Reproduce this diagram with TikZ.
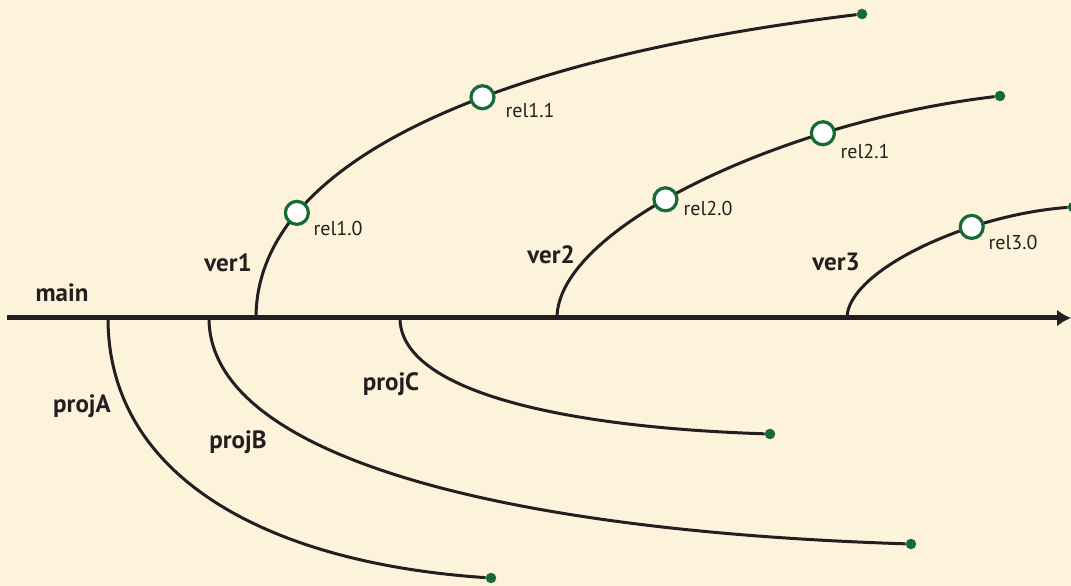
\documentclass[tikz,border=0pt]{standalone}
\usepackage{fontspec}
\setsansfont{PT Sans}
\usetikzlibrary{arrows.meta,positioning}
\definecolor{paper}{RGB}{253,243,218}
\definecolor{relgreen}{RGB}{22,106,56}
\definecolor{ink}{RGB}{35,31,32}

\begin{document}
\begin{tikzpicture}[>={Latex[length=14pt,width=17pt]}, x=1pt, y=1pt,
  mainline/.style={line width=5pt, draw=ink},
  branchline/.style={line width=3pt, draw=ink},
  relcircle/.style={circle, draw=relgreen, fill=white, line width=3.2pt, minimum size=23pt, inner sep=0pt},
  enddot/.style={circle, fill=relgreen, minimum size=10.5pt, inner sep=0pt},
  branchlabel/.style={font=\sffamily\bfseries\fontsize{25}{30}\selectfont, text=ink, inner sep=1pt},
  rellabel/.style={font=\sffamily\fontsize{20}{24}\selectfont, text=ink, inner sep=1pt}]
\fill[paper] (0,0) rectangle (1071,586);
\useasboundingbox (0,0) rectangle (1071,586);
% branch points on main
\coordinate (start) at (7,268);
\coordinate (stop) at (1071,268);
\coordinate (pA) at (108,268);
\coordinate (pB) at (209,268);
\coordinate (pC) at (400,268);
\coordinate (v1) at (256,268);
\coordinate (v2) at (557,268);
\coordinate (v3) at (847,268);
% end points
\node[enddot] (eA) at (491,8) {};
\node[enddot] (eB) at (911,42) {};
\node[enddot] (eC) at (770,152) {};
\node[enddot] (e1) at (862,572) {};
\node[enddot] (e2) at (1000,490) {};
\node[enddot] (e3) at (1073,379) {};
% projects
\draw[branchline] (pA) .. controls +(0,-159) and +(-224,15) .. (eA);
\draw[branchline] (pB) .. controls +(0,-138) and +(-411,13) .. (eB);
\draw[branchline] (pC) .. controls +(0,-71) and +(-216,7) .. (eC);
% versions with releases
\draw[branchline] (v1) .. controls +(0,152) and +(-382,-46) ..
    node[relcircle, pos=0.25] (r10) {} node[relcircle, pos=0.6] (r11) {} (e1);
\draw[branchline] (v2) .. controls +(0,89) and +(-220,-26) ..
    node[relcircle, pos=0.437] (r20) {} node[relcircle, pos=0.729] (r21) {} (e2);
\draw[branchline] (v3) .. controls +(0,46) and +(-108,-8) ..
    node[relcircle, pos=0.69] (r30) {} (e3);
% main
\draw[mainline,->] (start) -- (stop);
% labels
\node[branchlabel] (lmain) at (62,293) {main};
\node[branchlabel] (lA) at (82,180) {projA};
\node[branchlabel] (lB) at (238,144) {projB};
\node[branchlabel] (lC) at (391,202) {projC};
\node[branchlabel] (l1) at (228,323) {ver1};
\node[branchlabel] (l2) at (551,331) {ver2};
\node[branchlabel] (l3) at (836,324) {ver3};
\node[rellabel] (t10) at (338,357) {rel1.0};
\node[rellabel] (t11) at (530,475) {rel1.1};
\node[rellabel] (t20) at (708,377) {rel2.0};
\node[rellabel] (t21) at (865,434) {rel2.1};
\node[rellabel] (t30) at (1013,343) {rel3.0};
\end{tikzpicture}
\end{document}
